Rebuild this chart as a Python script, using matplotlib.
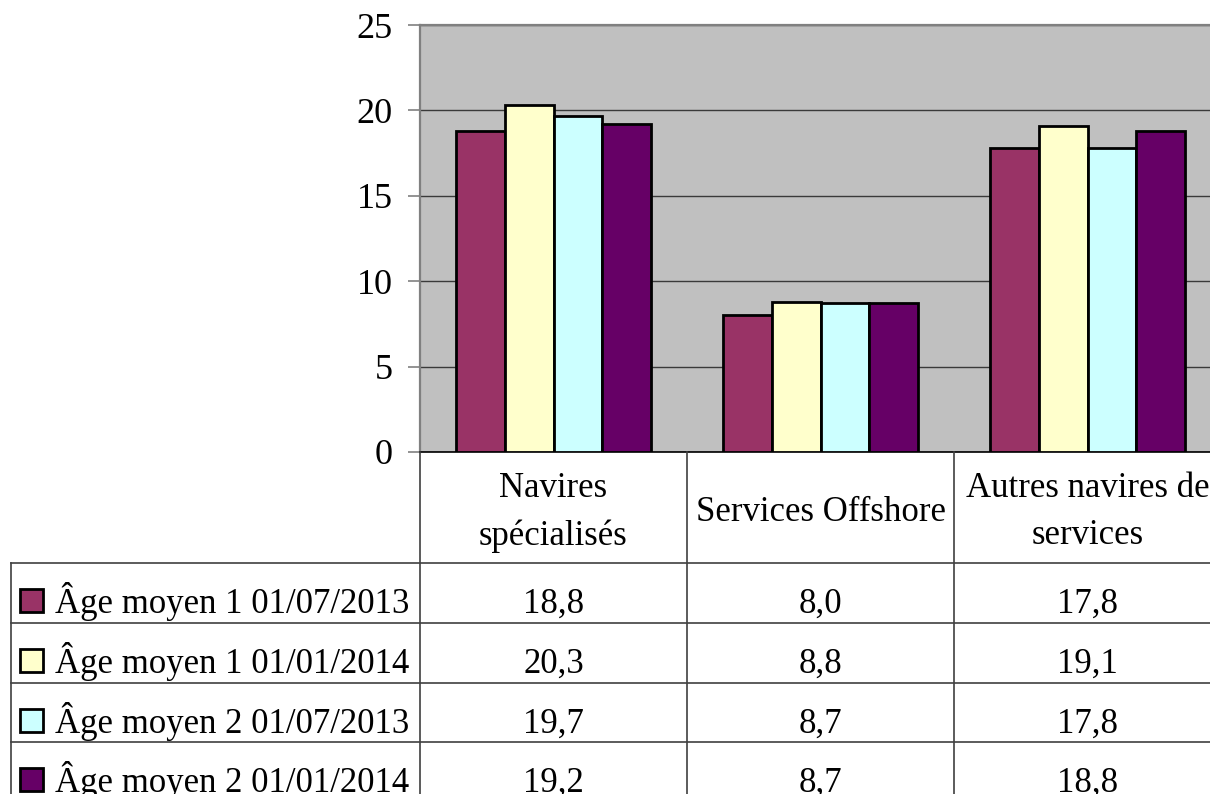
import matplotlib
matplotlib.use("Agg")
import matplotlib.pyplot as plt
import numpy as np

plt.rcParams["font.family"] = ["Liberation Serif", "DejaVu Serif"]

categories = ["Navires\nspécialisés", "Services Offshore", "Autres navires de\nservices"]
series_names = ["Âge moyen 1 01/07/2013", "Âge moyen 1 01/01/2014",
                "Âge moyen 2 01/07/2013", "Âge moyen 2 01/01/2014"]
age_1_2013_07 = [18.8, 8.0, 17.8]
age_1_2014_01 = [20.3, 8.8, 19.1]
age_2_2013_07 = [19.7, 8.7, 17.8]
age_2_2014_01 = [19.2, 8.7, 18.8]
yticks = [0, 5, 10, 15, 20, 25]

series = [age_1_2013_07, age_1_2014_01, age_2_2013_07, age_2_2014_01]
colors = ["#993366", "#FFFFCC", "#CCFFFF", "#660066"]

W, H = 1210, 794
FS = 25
fig = plt.figure(figsize=(W / 100, H / 100), dpi=100)

# plot area in pixels: left 420, top 25, bottom 452, category width ~267
left, top, bottom, right = 420, 25, 452, 1221
ax = fig.add_axes([left / W, 1 - bottom / H, (right - left) / W, (bottom - top) / H])
ax.set_facecolor("#C0C0C0")

x = np.arange(len(categories))
bw = 0.1835
for i, (vals, c) in enumerate(zip(series, colors)):
    ax.bar(x + (i - 1.5) * bw, vals, bw, color=c, edgecolor="black", linewidth=2, zorder=3)

ax.set_xlim(-0.5, len(categories) - 0.5)
ax.set_ylim(0, 25)
ax.set_yticks(yticks)
ax.set_yticklabels([str(t) for t in yticks], fontsize=26)
ax.set_xticks([])
ax.yaxis.grid(True, color="#3a3a3a", linewidth=1)
ax.set_axisbelow(True)
ax.tick_params(axis="y", length=8.6, width=1.2, color="#808080", pad=11)
for s in ["left", "top"]:
    ax.spines[s].set_color("#808080")
    ax.spines[s].set_linewidth(1.6)
ax.spines["right"].set_visible(False)
ax.spines["bottom"].set_color("black")
ax.spines["bottom"].set_linewidth(1.2)

# data table below the chart, drawn in pixel coordinates
tab = fig.add_axes([0, 0, 1, 1])
tab.set_xlim(0, W)
tab.set_ylim(H, 0)
tab.axis("off")
tab.patch.set_alpha(0)

col_w = (right - left) / len(categories)
col_edges = [left + k * col_w for k in range(len(categories) + 1)]
col_centers = [left + (k + 0.5) * col_w for k in range(len(categories))]
row_lines = [563, 623, 683, 742]
tbl_left = 11
lc = "#404040"

for xe in col_edges:
    tab.plot([xe, xe], [bottom, H], color=lc, lw=1.2)
tab.plot([tbl_left, tbl_left], [row_lines[0], H], color=lc, lw=1.2)
for yr in row_lines:
    tab.plot([tbl_left, W], [yr, yr], color=lc, lw=1.2)

for cx, name in zip(col_centers, categories):
    if "\n" in name:
        tab.text(cx, 472, name, ha="center", va="top", fontsize=FS, linespacing=1.55)
    else:
        tab.text(cx, 521, name, ha="center", va="baseline", fontsize=FS)

for r, (name, vals, c) in enumerate(zip(series_names, series, colors)):
    base = row_lines[r] + 50
    tab.add_patch(plt.Rectangle((20, base - 24), 23, 23, facecolor=c,
                                edgecolor="black", linewidth=2))
    tab.text(55, base, name, ha="left", va="baseline", fontsize=FS)
    for cx, v in zip(col_centers, vals):
        tab.text(cx, base, f"{v:.1f}".replace(".", ","), ha="center",
                 va="baseline", fontsize=FS)

fig.savefig("out.png", dpi=100)
